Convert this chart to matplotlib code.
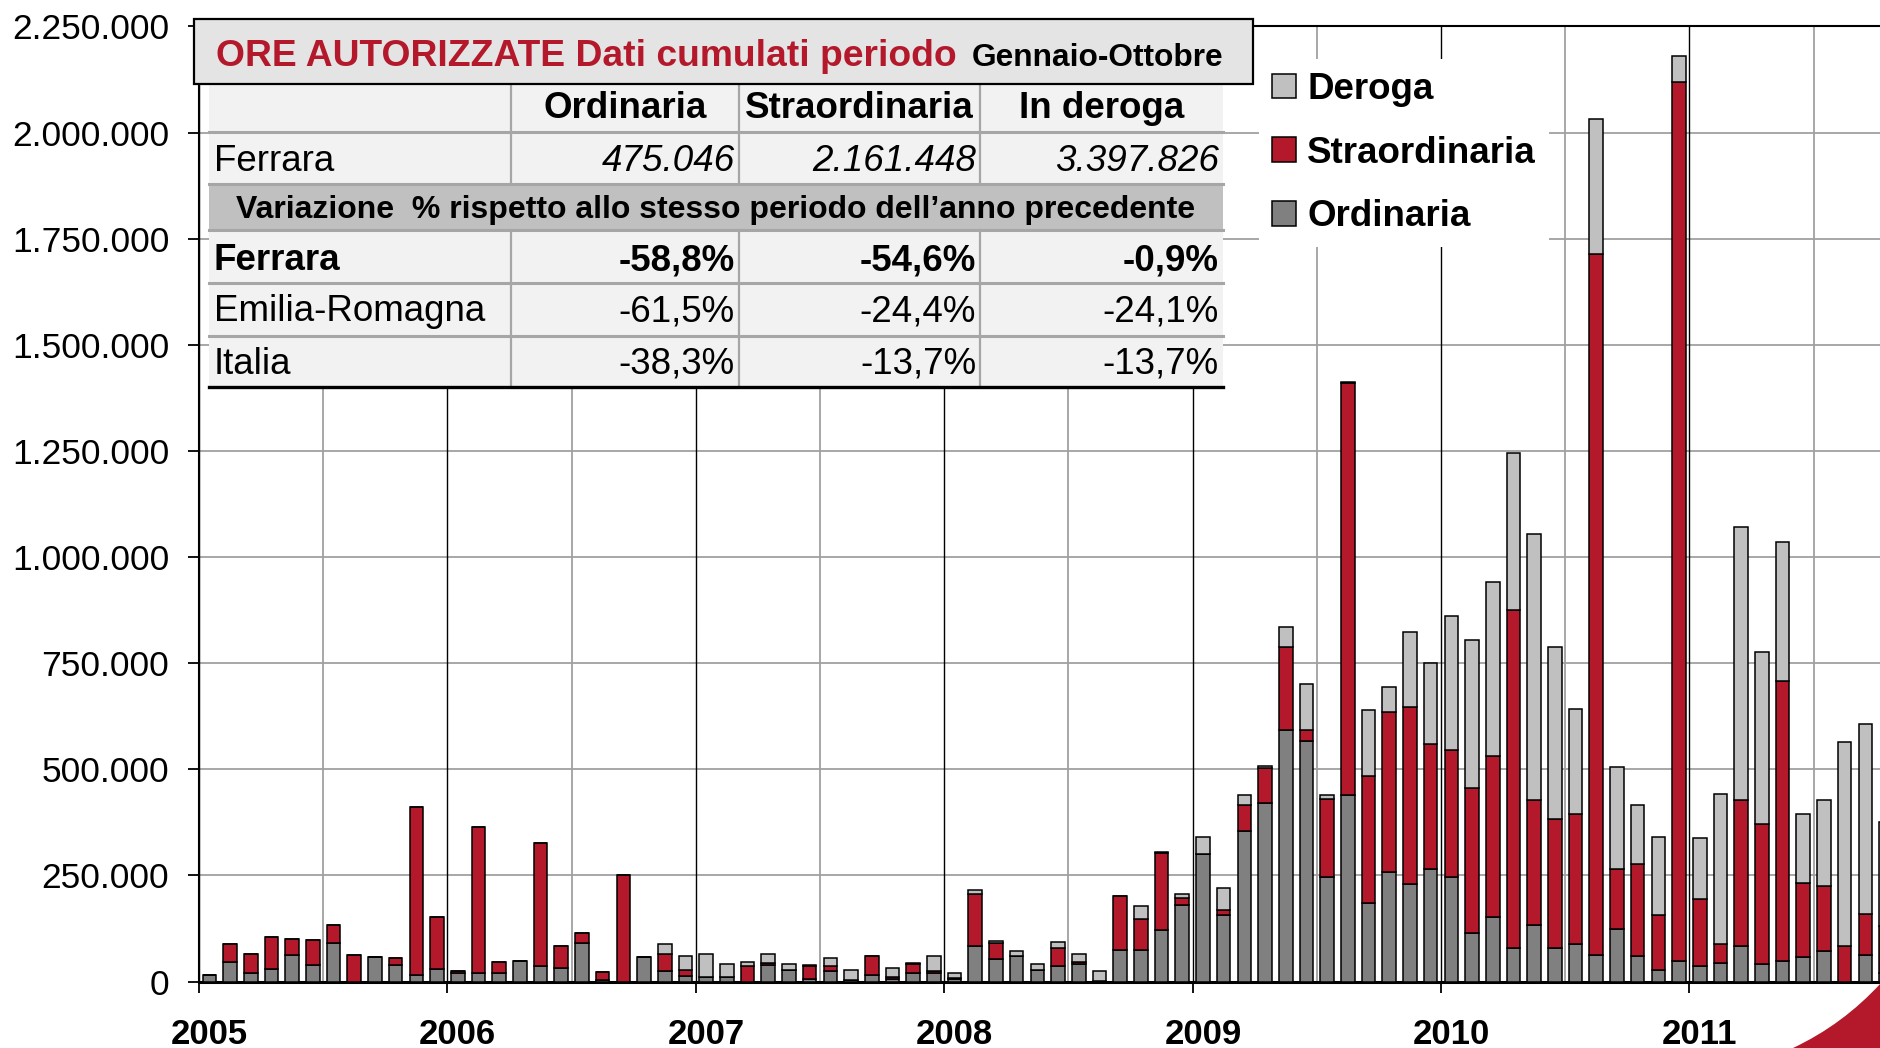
import numpy as np
import matplotlib
matplotlib.use("Agg")
from matplotlib import pyplot as plt
from matplotlib.patches import Rectangle,PathPatch
from matplotlib.path import Path
from matplotlib.transforms import Affine2D
from matplotlib.ticker import FuncFormatter

plt.rcParams["font.family"]=["Liberation Sans","DejaVu Sans"]

# monthly hours (thousands), Jan 2005 - Oct 2011
years=[2005,2006,2007,2008,2009,2010,2011]
ordinaria=[15,45,20,29,62,40,91,0,58,40,15,29,
           20,20,20,49,36,31,91,3,0,58,24,14,
           10,10,0,39,28,6,24,3,16,6,20,20,
           6,83,53,61,28,36,42,2,75,75,122,181,
           301,156,354,420,592,566,246,440,186,259,230,265,
           246,115,151,80,134,80,88,63,123,60,28,49,
           36,44,83,41,49,57,72,0,62,20]
straordinaria=[0,43,46,76,39,57,43,62,0,16,396,123,
               4,345,25,0,291,53,23,20,250,0,42,14,
               0,0,36,5,0,30,12,0,45,4,21,5,
               2,123,38,0,0,43,5,0,127,72,182,17,
               0,12,63,84,195,26,183,969,299,376,418,294,
               299,342,381,796,293,303,306,1651,142,217,130,2071,
               158,44,344,331,660,176,153,83,98,111]
deroga=[0,0,0,0,0,0,0,0,0,0,0,0,
        0,0,0,0,0,0,0,0,0,0,22,32,
        54,32,9,20,14,2,19,25,0,22,2,35,
        12,10,5,10,14,14,17,22,0,30,2,8,
        39,52,23,3,48,108,11,3,155,60,175,191,
        316,348,410,370,628,406,249,318,241,140,182,61,
        145,355,644,404,327,162,202,481,446,244]

table_cols=["Ordinaria","Straordinaria","In deroga"]
table_ferrara=["475.046","2.161.448","3.397.826"]
var_rows=["Ferrara","Emilia-Romagna","Italia"]
var_values=[["-58,8%","-54,6%","-0,9%"],
            ["-61,5%","-24,4%","-24,1%"],
            ["-38,3%","-13,7%","-13,7%"]]

RED="#B3192B"
GRAY="#808080"
LGRAY="#C0C0C0"

W,H=1881,1048
fig=plt.figure(figsize=(W/100,H/100),dpi=100)
y0,y1=981.6,26.4
month_px=20.7
ax=fig.add_axes([199/W,1-y0/H,(W-199)/W,(y0-y1)/H])

o=np.array(ordinaria)*1000.0
s=np.array(straordinaria)*1000.0
d=np.array(deroga)*1000.0
x=np.arange(len(o))+0.5
bw=0.66
b1=ax.bar(x,o,bw,color=GRAY,edgecolor="black",linewidth=1.1,label="Ordinaria",zorder=3)
b2=ax.bar(x,s,bw,bottom=o,color=RED,edgecolor="black",linewidth=1.1,label="Straordinaria",zorder=3)
b3=ax.bar(x,d,bw,bottom=o+s,color=LGRAY,edgecolor="black",linewidth=1.1,label="Deroga",zorder=3)

ax.set_xlim(0,(W-199)/month_px)
ax.set_ylim(0,2250000)
ax.set_yticks(np.arange(0,2250001,250000))
ax.yaxis.set_major_formatter(FuncFormatter(lambda v,p:f"{int(v):,}".replace(",",".")))
ax.yaxis.grid(True,color="#A0A0A0",linewidth=1.3,zorder=0)
ax.set_axisbelow(True)

bounds=[12*i for i in range(len(years))]
for b in bounds:
    ax.axvline(b,color="black",linewidth=1.0,zorder=1)
    ax.axvline(b+6,color="#A0A0A0",linewidth=1.3,zorder=1)
ax.set_xticks(bounds)
ax.set_xticklabels([])
ax.set_xticks([b+0.5 for b in bounds],minor=True)
ax.set_xticklabels([str(y) for y in years],minor=True,fontsize=25,fontweight="bold")
ax.tick_params(axis="x",which="major",direction="out",length=8,width=1.3,color="black")
ax.tick_params(axis="x",which="minor",length=0,pad=26.5)
ax.tick_params(axis="y",direction="out",length=8,width=1.3,pad=13.5,labelsize=25.5)

for sp in ["left","top"]:
    ax.spines[sp].set_linewidth(1.5)
ax.spines["bottom"].set_linewidth(2.2)
ax.spines["right"].set_visible(False)

leg=ax.legend(handles=[b3,b2,b1],loc="upper left",bbox_to_anchor=(1259/W,1-59/H),
              bbox_transform=fig.transFigure,prop={"size":26.5,"weight":"bold"},
              frameon=True,facecolor="white",edgecolor="none",framealpha=1,fancybox=False,
              handlelength=0.66,handleheight=0.66,handletextpad=0.3,labelspacing=0.78,
              borderpad=0.35,borderaxespad=0)

# table drawn in pixel coordinates (y from top)
pix=Affine2D().scale(1/W,-1/H).translate(0,1)+fig.transFigure

def rect(x0,yt,x1,yb,fc,ec="none",lw=0,z=2):
    fig.add_artist(Rectangle((x0,yt),x1-x0,yb-yt,facecolor=fc,edgecolor=ec,linewidth=lw,transform=pix,zorder=z))

def hline(xa,xb,y,c,lw):
    fig.add_artist(plt.Line2D([xa,xb],[y,y],color=c,linewidth=lw,transform=pix,zorder=4))

def vline(xv,ya,yb,c,lw):
    fig.add_artist(plt.Line2D([xv,xv],[ya,yb],color=c,linewidth=lw,transform=pix,zorder=4))

tl,tr=209,1223
cb=[tl,511,739,980,tr]
rows=[84,132,184,230,283,336,387]
rect(tl,rows[0],tr,rows[-1],"#F2F2F2")
rect(tl,rows[2],tr,rows[3],LGRAY)
for yv in rows[1:-1]:
    hline(tl,tr,yv,"#A6A6A6",2.2)
for xv in cb[1:-1]:
    vline(xv,rows[0],rows[2],"#A6A6A6",1.6)
    vline(xv,rows[3],rows[-1],"#A6A6A6",1.6)
hline(tl,tr,rows[-1],"black",2.4)

# title box
rect(194,19,1253,84,"#E4E4E4",ec="black",lw=1.6,z=5)
fig.text(216,66,"ORE AUTORIZZATE Dati cumulati periodo",transform=pix,color=RED,
         fontsize=26.8,fontweight="bold",va="baseline",ha="left",zorder=6)
fig.text(972,66,"Gennaio-Ottobre",transform=pix,color="black",
         fontsize=22.8,fontweight="bold",va="baseline",ha="left",zorder=6)

fs=26.5
for j,c in enumerate(table_cols):
    fig.text((cb[j+1]+cb[j+2])/2,118,c,transform=pix,fontsize=fs,fontweight="bold",
             ha="center",va="baseline",zorder=6)
fig.text(214,171,"Ferrara",transform=pix,fontsize=fs,ha="left",va="baseline",zorder=6)
for j,v in enumerate(table_ferrara):
    fig.text(cb[j+2]-4,171,v,transform=pix,fontsize=fs,style="italic",
             ha="right",va="baseline",zorder=6)
fig.text((tl+tr)/2,218,"Variazione  % rispetto allo stesso periodo dell\u2019anno precedente",
         transform=pix,fontsize=23,fontweight="bold",ha="center",va="baseline",zorder=6)
base=[270,321,374]
for i,r in enumerate(var_rows):
    wt="bold" if i==0 else "normal"
    fig.text(214,base[i],r,transform=pix,fontsize=fs,fontweight=wt,ha="left",va="baseline",zorder=6)
    for j,v in enumerate(var_values[i]):
        fig.text(cb[j+2]-4,base[i],v,transform=pix,fontsize=fs,fontweight=wt,
                 ha="right",va="baseline",zorder=6)

# red corner swoosh
sw=Path([(1793,1048),(1843,1024.5),(1881,983),(1881,1048),(1793,1048)],
        [Path.MOVETO,Path.CURVE3,Path.CURVE3,Path.LINETO,Path.CLOSEPOLY])
fig.add_artist(PathPatch(sw,facecolor=RED,edgecolor="none",transform=pix,zorder=6))

fig.savefig("out.png",dpi=100)
